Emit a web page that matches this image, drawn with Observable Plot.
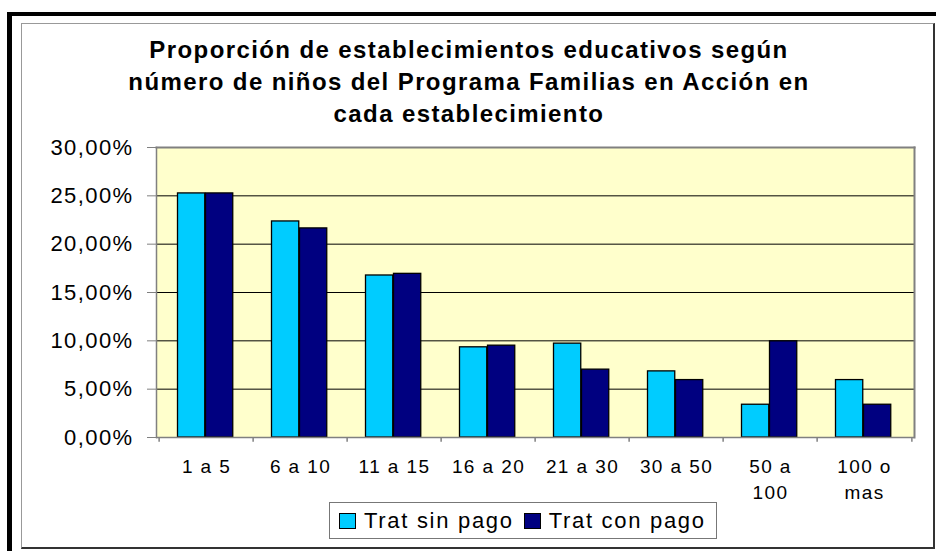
<!DOCTYPE html>
<html>
<head>
<meta charset="utf-8">
<script src="https://cdn.jsdelivr.net/npm/d3@7"></script>
<script src="https://cdn.jsdelivr.net/npm/@observablehq/plot@0.6"></script>
<style>
  body { margin: 0; background: #fff; }
  #wrap { position: relative; width: 936px; height: 551px; overflow: hidden; font-family: "Liberation Sans", Arial, sans-serif; color: #000; }
  #frameOuter { position: absolute; left: 7px; top: 12px; right: -20px; bottom: -20px; border-top: 4px solid #000; border-left: 5px solid #000; }
  #frameInner { position: absolute; left: 21px; top: 23px; width: 914px; height: 526px; box-sizing: border-box; border: 1px solid #999; border-right: 2px solid #333; border-bottom: 2px solid #333; }
  #title { position: absolute; left: 0; top: 34px; width: 938px; text-align: center; font-weight: bold; font-size: 24px; letter-spacing: 1.4px; line-height: 32px; }
  #chart { position: absolute; left: 0; top: 0; }
  #legend { position: absolute; left: 329px; top: 502px; width: 388px; height: 37px; box-sizing: border-box; border: 1px solid #777; display: flex; align-items: center; padding-left: 9px; font-size: 22px; letter-spacing: 1.7px; }
  #legend .sw { width: 15px; height: 14px; border: 1.5px solid #000; margin-right: 8px; }
  #legend .it { display: flex; align-items: center; margin-right: 10px; }
</style>
</head>
<body>
<div id="wrap">
  <div id="frameOuter"></div>
  <div id="frameInner"></div>
  <div id="chart"></div>
  <div id="title">Proporción de establecimientos educativos según<br>número de niños del Programa Familias en Acción en<br>cada establecimiento</div>
  <div id="legend"></div>
</div>
<script>
const categorias = ["1 a 5", "6 a 10", "11 a 15", "16 a 20", "21 a 30", "30 a 50", "50 a\n100", "100 o\nmas"];
const series = ["Trat sin pago", "Trat con pago"];
const colores = ["#00CCFF", "#000080"];
const sinPago = [25.25, 22.35, 16.76, 9.33, 9.71, 6.84, 3.39, 5.94];
const conPago = [25.25, 21.63, 16.93, 9.50, 7.02, 5.94, 9.95, 3.39];
const yTicks = [0, 5, 10, 15, 20, 25, 30];
const gridTicks = [5, 10, 15, 20, 25];

const W = 936, H = 551, mL = 156, mR = 22, mT = 147, mB = 114;
const bw = (W - mL - mR) / categorias.length;

const dataSin = categorias.map((c, i) => ({cat: c, value: sinPago[i]}));
const dataCon = categorias.map((c, i) => ({cat: c, value: conPago[i]}));
const fmt = d => d.toFixed(2).replace(".", ",") + "%";

const chart = Plot.plot({
  width: W, height: H,
  marginLeft: mL, marginRight: mR, marginTop: mT, marginBottom: mB,
  style: {fontFamily: "'Liberation Sans', Arial, sans-serif", fontSize: "19px", letterSpacing: "1.4px", color: "#000", background: "transparent", overflow: "visible"},
  x: {type: "band", domain: categorias, padding: 0, label: null},
  y: {domain: [0, 30], label: null},
  marks: [
    Plot.frame({fill: "#FFFFCC", stroke: null}),
    Plot.ruleY(gridTicks, {stroke: "#000", strokeWidth: 1}),
    Plot.frame({anchor: "top", stroke: "#808080", strokeWidth: 2}),
    Plot.frame({anchor: "right", stroke: "#808080", strokeWidth: 2}),
    Plot.barY(dataSin, {x: "cat", y: "value", fill: colores[0], stroke: "#000", strokeWidth: 1.3, insetLeft: 18.5, insetRight: bw - 46.5}),
    Plot.barY(dataCon, {x: "cat", y: "value", fill: colores[1], stroke: "#000", strokeWidth: 1.3, insetLeft: 46.5, insetRight: bw - 74.5}),
    Plot.ruleY([0], {stroke: "#808080", strokeWidth: 1.5}),
    Plot.frame({anchor: "left", stroke: "#808080", strokeWidth: 1.5}),
    Plot.ruleX(categorias, {x: d => d, y1: 0, y2: -0.5, dx: -bw / 2, stroke: "#808080", strokeWidth: 1.5}),
    Plot.ruleX(categorias.slice(-1), {x: d => d, y1: 0, y2: -0.5, dx: bw / 2, stroke: "#808080", strokeWidth: 1.5}),
    Plot.axisY({ticks: yTicks, tickFormat: fmt, tickSize: 9, tickPadding: 14, fontSize: 22, stroke: "#808080"}),
    Plot.axisX({tickSize: 0, tickPadding: 17, fontSize: 19, lineHeight: 1.38})
  ]
});
document.getElementById("chart").appendChild(chart);

const legend = document.getElementById("legend");
series.forEach((s, i) => {
  const it = document.createElement("div");
  it.className = "it";
  const sw = document.createElement("div");
  sw.className = "sw";
  sw.style.background = colores[i];
  const tx = document.createElement("span");
  tx.textContent = s;
  it.appendChild(sw);
  it.appendChild(tx);
  legend.appendChild(it);
});
</script>
</body>
</html>
